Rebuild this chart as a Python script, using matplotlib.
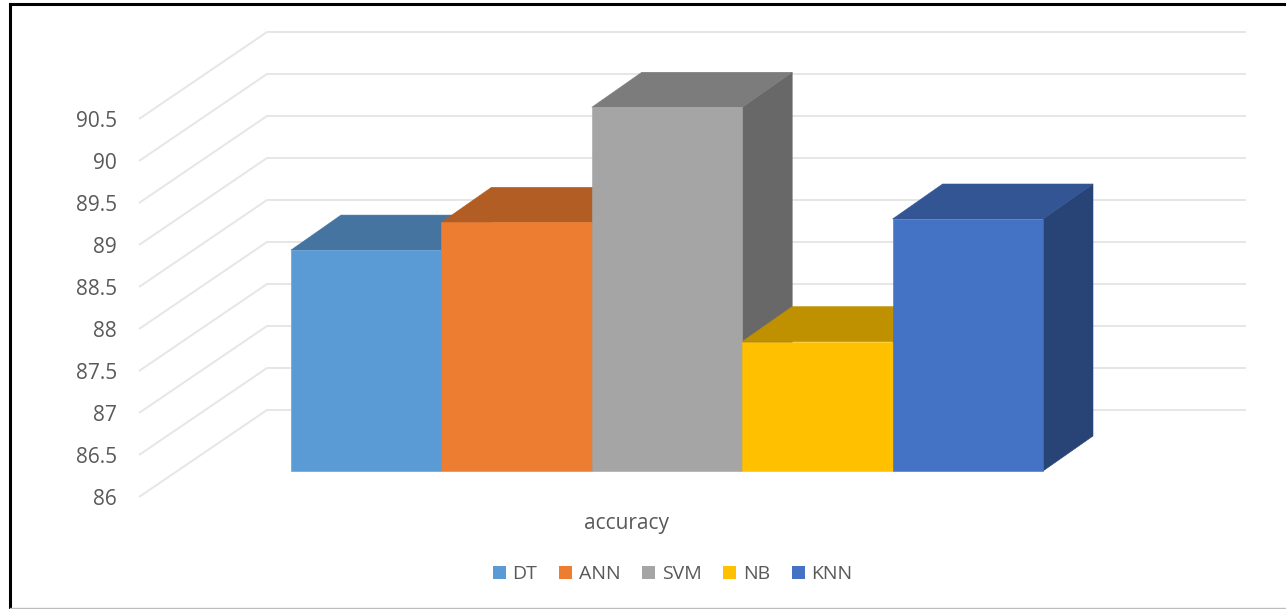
# ------------------------------
#  accuracy of classifiers, fake 3D column chart
# ------------------------------

import matplotlib
matplotlib.use("Agg")
import matplotlib.pyplot as plt
from matplotlib.lines import Line2D
from matplotlib.patches import Patch, Polygon

plt.rcParams["font.family"] = ["Open Sans", "DejaVu Sans"]

# Data
models = ["DT", "ANN", "SVM", "NB", "KNN"]
accuracy = [88.63, 88.96, 90.33, 87.54, 89.0]
tick_values = [86, 86.5, 87, 87.5, 88, 88.5, 89, 89.5, 90, 90.5]
tick_labels = ["86", "86.5", "87", "87.5", "88", "88.5", "89", "89.5", "90", "90.5"]

# Colours: front, top, side
front_colors = ["#5B9BD5", "#ED7D31", "#A5A5A5", "#FFC000", "#4472C4"]
top_colors = ["#44749F", "#B15D24", "#7C7C7C", "#BF9000", "#335593"]
side_colors = ["#386087", "#944E1E", "#686868", "#A37B00", "#284476"]

W, H = 1286, 609
PX_X = 150.4   # pixels for one category
PX_Y = 84.0    # pixels for one accuracy unit
BASE = 86

fig = plt.figure(figsize=(W / 100, H / 100), dpi=100)
ax = fig.add_axes([0, 0, 1, 1])
ax.set_xlim(-291 / PX_X, (W - 291) / PX_X)
ax.set_ylim(BASE - (H - 471) / PX_Y, BASE + 471 / PX_Y)
ax.axis("off")

# Depth of a bar, and offsets of the walls, in data units
bar_dx, bar_dy = 50 / PX_X, 35 / PX_Y
wall_left = -24 / PX_X
wall_right = 955 / PX_X
wall_dy = 61 / PX_Y
floor_dx, floor_dy = 128 / PX_X, 87 / PX_Y

# ------------------------
# Gridlines
# ------------------------
for v, label in zip(tick_values, tick_labels):
    back = v + wall_dy
    ax.plot([wall_left - floor_dx, wall_left, wall_right], [back - floor_dy, back, back],
            color="#E6E6E6", lw=1.4, zorder=1, solid_joinstyle="miter", solid_capstyle="butt")
    ax.text(-174 / PX_X, back - floor_dy - 0.03, label, ha="right", va="center",
            color="#595959", fontsize=15)

# ------------------------
# Bars, left to right so each one covers the last
# ------------------------
for i, val in enumerate(accuracy):
    z = 2 + i
    x0, x1 = i, i + 1
    side = [(x1, BASE), (x1 + bar_dx, BASE + bar_dy), (x1 + bar_dx, val + bar_dy), (x1, val)]
    top = [(x0, val), (x0 + bar_dx, val + bar_dy), (x1 + bar_dx, val + bar_dy), (x1, val)]
    front = [(x0, BASE), (x0, val), (x1, val), (x1, BASE)]
    ax.add_patch(Polygon(side, facecolor=side_colors[i], edgecolor=side_colors[i], lw=0.4, zorder=z))
    ax.add_patch(Polygon(top, facecolor=top_colors[i], edgecolor=top_colors[i], lw=0.4, zorder=z))
    ax.add_patch(Polygon(front, facecolor=front_colors[i], edgecolor=front_colors[i], lw=0.4, zorder=z))

# ------------------------
# Category label and legend
# ------------------------
ax.text(336 / PX_X, BASE - 52 / PX_Y, "accuracy", ha="center", va="center", color="#595959", fontsize=15)

handles = [Patch(facecolor=c, edgecolor="none", label=m) for c, m in zip(front_colors, models)]
fig.legend(handles=handles, loc="center", bbox_to_anchor=(672.5 / W, 1 - 574 / H), ncol=5,
           frameon=False, fontsize=14, labelcolor="#595959", handlelength=0.68, handleheight=0.68,
           handletextpad=0.33, columnspacing=1.12, borderpad=0)

# ------------------------
# Screenshot frame
# ------------------------
fig.add_artist(Line2D([9.5 / W, 9.5 / W], [0, 1 - 4 / H], color="black", lw=2.2))
fig.add_artist(Line2D([9.5 / W, 1], [1 - 4 / H, 1 - 4 / H], color="black", lw=2.2))
fig.add_artist(Line2D([9.5 / W, 1], [1 - 608 / H, 1 - 608 / H], color="#BDBDBD", lw=1))

plt.savefig("out.png", dpi=100)
